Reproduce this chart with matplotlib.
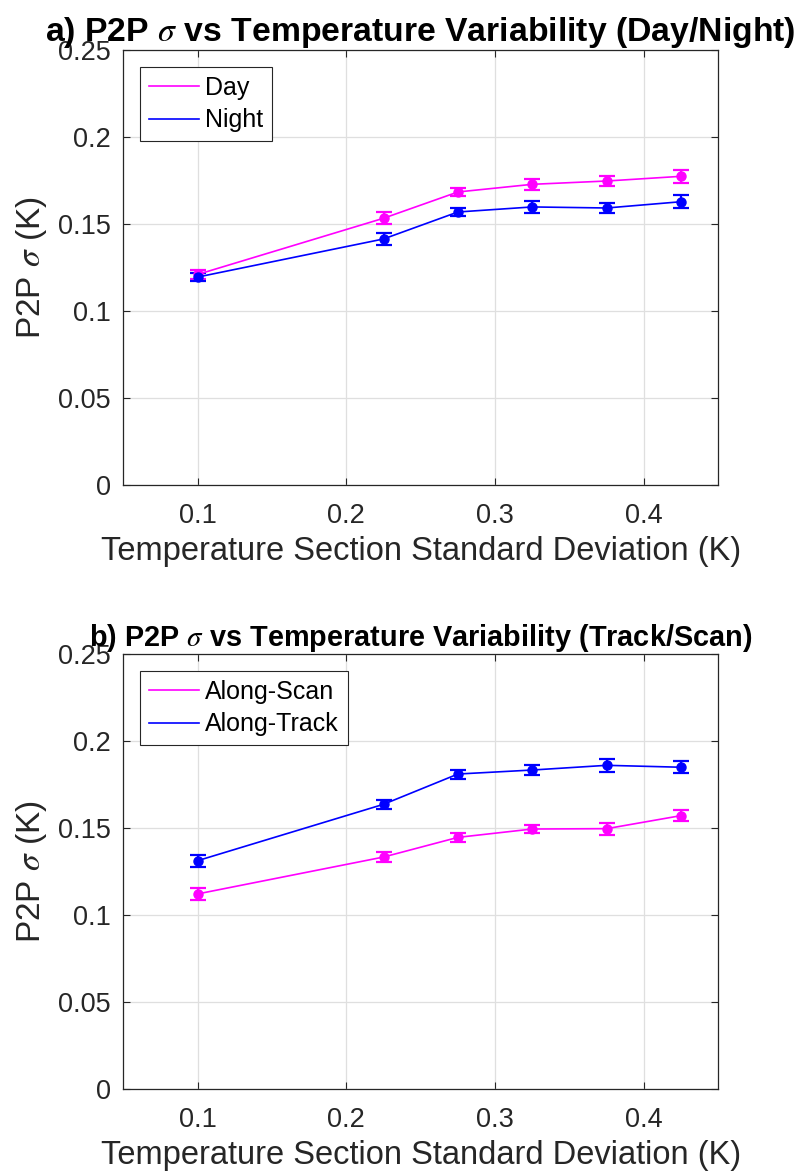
import numpy as np
import matplotlib
matplotlib.use("Agg")
import matplotlib.pyplot as plt

# temperature section std-dev bins (K)
x = [0.1, 0.225, 0.275, 0.325, 0.375, 0.425]

# panel a: day / night
day = [0.121, 0.1533, 0.1684, 0.1728, 0.1747, 0.1774]
day_err = [0.0025, 0.0034, 0.0024, 0.0033, 0.0030, 0.0038]
night = [0.1195, 0.1414, 0.1569, 0.1598, 0.1592, 0.1628]
night_err = [0.0025, 0.0034, 0.0022, 0.0034, 0.0030, 0.0038]

# panel b: along-scan / along-track
scan = [0.1121, 0.1333, 0.1446, 0.1494, 0.1496, 0.1571]
scan_err = [0.0034, 0.0028, 0.0027, 0.0024, 0.0034, 0.0032]
track = [0.1312, 0.1636, 0.1810, 0.1833, 0.1860, 0.1849]
track_err = [0.0035, 0.0026, 0.0026, 0.0026, 0.0036, 0.0033]

titles = [r"a) P2P $\sigma$ vs Temperature Variability (Day/Night)",
          r"b) P2P $\sigma$ vs Temperature Variability (Track/Scan)"]
yticks = [0, 0.05, 0.1, 0.15, 0.2, 0.25]
ytick_labels = ["0", "0.05", "0.1", "0.15", "0.2", "0.25"]
xticks = [0.1, 0.2, 0.3, 0.4]
xtick_labels = ["0.1", "0.2", "0.3", "0.4"]

plt.rcParams.update({
    "font.family": "Liberation Sans", "mathtext.fontset": "stix",
    "axes.edgecolor": "#262626", "axes.linewidth": 0.9,
    "xtick.direction": "in", "ytick.direction": "in",
    "xtick.top": True, "ytick.right": True,
    "xtick.color": "#262626", "ytick.color": "#262626",
    "xtick.labelcolor": "#262626", "ytick.labelcolor": "#262626",
})

MAG = "#FF00FF"
BLU = "#0000FF"

fig = plt.figure(figsize=(8.0, 11.73), dpi=100)
axA = fig.add_axes([0.154, 0.5865, 0.7438, 0.3709])
axB = fig.add_axes([0.154, 0.0716, 0.7438, 0.3709])

panels = [
    (axA, [(day, day_err, MAG, "Day"), (night, night_err, BLU, "Night")], 24.3),
    (axB, [(scan, scan_err, MAG, "Along-Scan"), (track, track_err, BLU, "Along-Track")], 20.8),
]

for i, (ax, series, tfs) in enumerate(panels):
    for vals, err, col, lab in series:
        ax.errorbar(x, vals, yerr=err, color=col, lw=1.2, marker="o", ms=6.5,
                    mfc=col, mec=col, capsize=5.5, capthick=1.6, elinewidth=1.6,
                    label=lab)
    ax.set_xlim(0.05, 0.45)
    ax.set_ylim(0, 0.25)
    ax.set_xticks(xticks)
    ax.set_xticklabels(xtick_labels)
    ax.set_yticks(yticks)
    ax.set_yticklabels(ytick_labels)
    ax.tick_params(labelsize=19.5, length=5, width=0.8)
    ax.tick_params(axis="x", pad=13)
    ax.tick_params(axis="y", pad=9)
    ax.grid(True, color="#dfdfdf", lw=0.9)
    ax.set_axisbelow(True)
    ax.set_xlabel("Temperature Section Standard Deviation (K)", fontsize=23.5,
                  color="#262626", labelpad=5)
    ax.set_ylabel(r"P2P $\sigma$ (K)", fontsize=24, color="#262626", labelpad=6)
    ax.set_title(titles[i], fontsize=tfs, fontweight="bold", pad=3)
    # only the line in the legend, like the original
    handles = [plt.Line2D([0], [0], color=c, lw=1.2) for _, _, c, _ in series]
    labels = [s[3] for s in series]
    leg = ax.legend(handles, labels, loc="upper left", fontsize=18,
                    fancybox=False, framealpha=1, edgecolor="#262626",
                    borderpad=0.35, handlelength=2.0, handletextpad=0.25,
                    labelspacing=0.35, borderaxespad=0.68)
    leg.get_frame().set_linewidth(0.8)

fig.savefig("out.png", dpi=100)
